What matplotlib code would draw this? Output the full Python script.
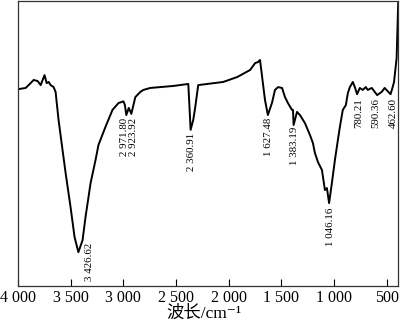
import numpy as np
import matplotlib
matplotlib.use('Agg')
from matplotlib import pyplot as plt

plt.rcParams['font.family'] = ['Liberation Serif', 'Noto Sans CJK SC', 'DejaVu Serif']

# 红外光谱 波数(cm-1) 与 透过率(%)
wavenumber = [3993, 3927, 3880, 3851, 3813, 3785, 3748, 3728, 3709, 3690, 3662, 3643,
              3615, 3577, 3548, 3501, 3463, 3426.62, 3387, 3359, 3311, 3264, 3236, 3170,
              3103, 3046, 2999, 2985, 2971.80, 2948, 2923.92, 2886, 2839, 2810, 2744,
              2649, 2525, 2383, 2360.91, 2336, 2317, 2289, 2203, 2052, 1920, 1796,
              1749, 1721, 1702, 1655, 1627.48, 1589, 1560, 1531, 1493, 1465, 1437,
              1399, 1389, 1383.19, 1351, 1323, 1276, 1228, 1200, 1181, 1152, 1114,
              1086, 1067, 1046.16, 1020, 991, 963, 944, 916, 887, 868, 849, 821, 802,
              780.21, 755, 726, 698, 679, 641, 590.36, 547, 519, 462.60, 445, 430,
              405, 390]
transmittance = [69.1, 69.5, 71.2, 72.3, 71.9, 70.5, 74.0, 71.2, 71.6, 70.5, 69.8, 68.1,
                 58.3, 47.7, 39.7, 27.7, 17.2, 11.9, 16.1, 24.2, 36.1, 44.2, 49.5, 55.8,
                 61.8, 64.2, 64.8, 63.5, 60.0, 62.5, 60.4, 66.3, 68.1, 68.8, 69.5,
                 69.8, 70.2, 70.9, 54.8, 58.3, 62.8, 70.5, 70.9, 71.6, 73.3, 75.8,
                 78.2, 78.6, 79.3, 65.3, 60.0, 64.2, 68.8, 69.8, 69.5, 66.3, 64.2,
                 61.8, 61.8, 56.5, 61.1, 60.0, 57.2, 53.0, 50.2, 46.7, 43.5, 40.7,
                 33.7, 34.4, 29.1, 36.1, 44.2, 51.2, 55.8, 61.8, 63.5, 67.7, 69.8, 71.6, 69.8,
                 67.3, 69.5, 68.8, 69.8, 68.8, 69.5, 67.0, 68.1, 69.5, 67.3, 69.5, 71.5,
                 80.0, 99.6]

peak_text = ['3 426.62', '2 971.80', '2 923.92', '2 360.91', '1 627.48', '1 383.19',
             '1 046.16', '780.21', '590.36', '462.60']
label_x = [3321, 2988, 2905, 2357, 1626, 1371, 1032, 765, 598, 440]
label_top = [15.1, 59.0, 59.0, 53.7, 59.0, 55.8, 27.7, 66.0, 66.0, 66.0]

fig = plt.figure(figsize=(4.0, 3.27), dpi=100)
ax = fig.add_axes([0.045, 0.125, 0.95, 0.872])
ax.plot(wavenumber, transmittance, color='black', lw=1.4)

for x, y, t in zip(label_x, label_top, peak_text):
    ax.text(x, y, t, rotation=90, ha='center', va='top', fontsize=7.8)

ax.set_xlim(4000, 392)
ax.set_ylim(0, 100)
ax.set_xticks([4000, 3500, 3000, 2500, 2000, 1500, 1000, 500])
ax.set_xticklabels(['4 000', '3 500', '3 000', '2 500', '2 000', '1 500', '1 000', '500'])
ax.set_yticks([])
ax.tick_params(axis='x', direction='in', length=5, width=0.8, labelsize=11.5, pad=3)
for s in ax.spines.values():
    s.set_linewidth(0.9)
    s.set_color('#333333')

# 横轴标题 用 unicode 上标
fig.text(0.51, 0.042, '波长/cm⁻¹', ha='center', va='center', fontsize=12.5)

plt.savefig('out.png', dpi=100)
